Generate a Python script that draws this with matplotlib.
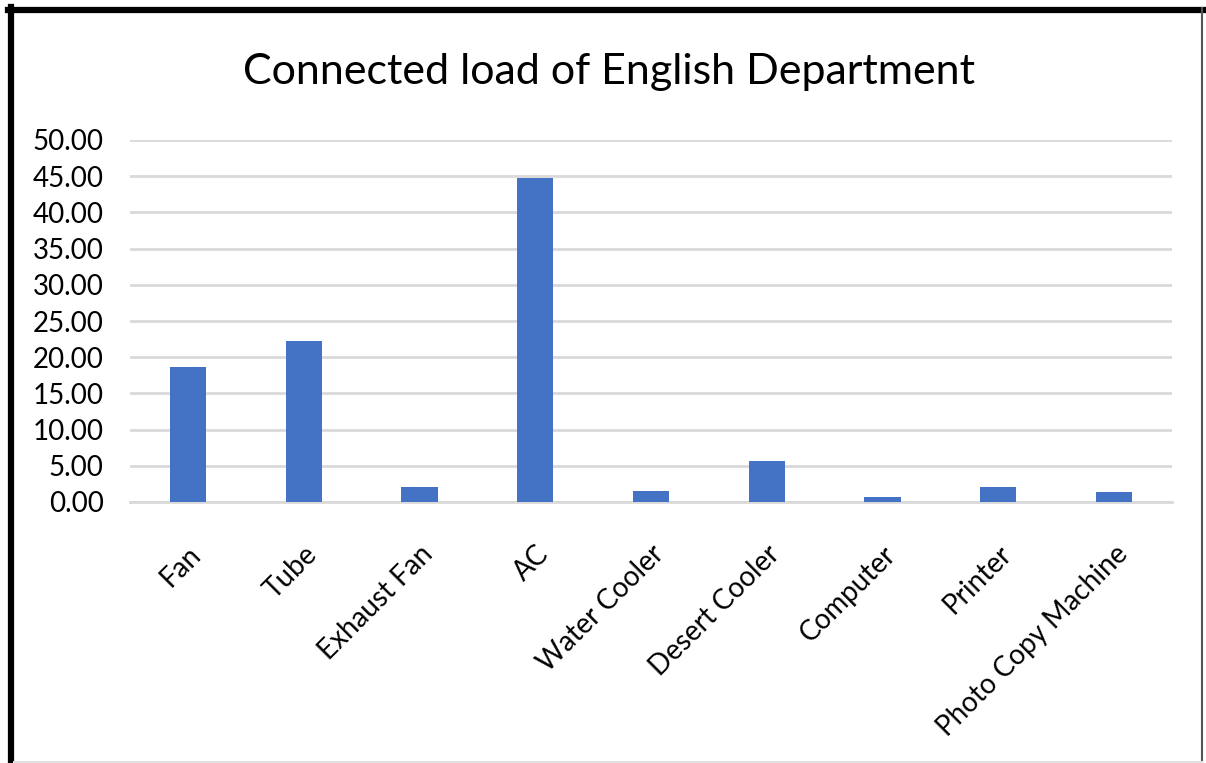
import numpy as np
import matplotlib.pyplot as plt
from matplotlib.lines import Line2D

categories = ['Fan', 'Tube', 'Exhaust Fan', 'AC', 'Water Cooler', 'Desert Cooler',
              'Computer', 'Printer', 'Photo Copy Machine']
loads = [18.7, 22.2, 2.03, 44.75, 1.56, 5.7, 0.65, 2.03, 1.34]
y_ticks = [0, 5, 10, 15, 20, 25, 30, 35, 40, 45, 50]

plt.rcParams['font.family'] = ['Lato', 'DejaVu Sans']

W, H = 1206, 763
fig = plt.figure(figsize=(W / 100, H / 100), dpi=100)
ax = fig.add_axes([130 / W, 1 - 502 / H, 1042 / W, 362 / H])

x = np.arange(len(categories))
ax.bar(x, loads, width=0.313, color='#4472C4', zorder=3)

ax.set_xlim(-0.5, len(categories) - 0.5)
ax.set_ylim(0, 50)
ax.set_yticks(y_ticks)
ax.set_yticklabels([f'{v:.2f}' for v in y_ticks], fontsize=20, color='#000000')
ax.set_xticks(x)
ax.set_xticklabels(categories, fontsize=20, rotation=45, ha='right',
                   rotation_mode='anchor')
ax.tick_params(axis='both', length=0)
ax.tick_params(axis='y', pad=19)
ax.tick_params(axis='x', pad=28)

ax.grid(axis='y', color='#D9D9D9', linewidth=2, zorder=0)
for s in ['top', 'right', 'left']:
    ax.spines[s].set_visible(False)
ax.spines['bottom'].set_color('#D9D9D9')
ax.spines['bottom'].set_linewidth(2)

fig.text(0.5 * (247 + 972) / W, 1 - 72 / H, 'Connected load of English Department',
         fontsize=31, ha='center', va='center')

# outer frame
fig.add_artist(Line2D([8 / W, 1203 / W], [1 - 10 / H, 1 - 10 / H], color='black', linewidth=4.5))
fig.add_artist(Line2D([11 / W, 11 / W], [0, 1 - 7 / H], color='black', linewidth=4.5))
fig.add_artist(Line2D([1202 / W, 1202 / W], [0, 1 - 8 / H], color='#555555', linewidth=1.5))
fig.add_artist(Line2D([14 / W, 1202 / W], [1 / H, 1 / H], color='#E0E0E0', linewidth=1.5))

fig.savefig('out.png', dpi=100)
